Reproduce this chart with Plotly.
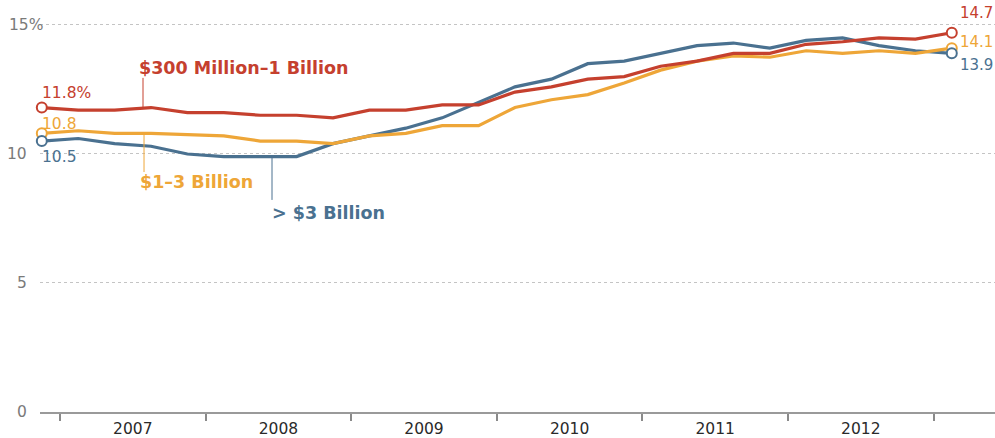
import plotly.graph_objects as go

# Quarterly periods, 2006 Q4 through 2013 Q1 (plotted at mid-quarter)
quarters = [
    "2006Q4",
    "2007Q1", "2007Q2", "2007Q3", "2007Q4",
    "2008Q1", "2008Q2", "2008Q3", "2008Q4",
    "2009Q1", "2009Q2", "2009Q3", "2009Q4",
    "2010Q1", "2010Q2", "2010Q3", "2010Q4",
    "2011Q1", "2011Q2", "2011Q3", "2011Q4",
    "2012Q1", "2012Q2", "2012Q3", "2012Q4",
    "2013Q1",
]

mid_300m_1b = [11.8, 11.7, 11.7, 11.8, 11.6, 11.6, 11.5, 11.5, 11.4, 11.7, 11.7, 11.9, 11.9,
               12.4, 12.6, 12.9, 13.0, 13.4, 13.6, 13.9, 13.9, 14.25, 14.35, 14.5, 14.45, 14.7]
mid_1b_3b = [10.8, 10.9, 10.8, 10.8, 10.75, 10.7, 10.5, 10.5, 10.4, 10.7, 10.8, 11.1, 11.1,
             11.8, 12.1, 12.3, 12.75, 13.25, 13.6, 13.8, 13.75, 14.0, 13.9, 14.0, 13.9, 14.1]
over_3b = [10.5, 10.6, 10.4, 10.3, 10.0, 9.9, 9.9, 9.9, 10.4, 10.7, 11.0, 11.4, 12.0,
           12.6, 12.9, 13.5, 13.6, 13.9, 14.2, 14.3, 14.1, 14.4, 14.5, 14.2, 14.0, 13.9]

years = [2007, 2008, 2009, 2010, 2011, 2012]
y_ticks = [0, 5, 10, 15]
y_tick_text = ["0", "5", "10", "15%"]

RED = "#c5402e"
GOLD = "#eea638"
BLUE = "#4a7190"
FONT = "DejaVu Sans"


def quarter_pos(q):
    yr, qn = int(q[:4]), int(q[-1])
    return yr + (qn - 0.5) / 4.0


xq = [quarter_pos(q) for q in quarters]

series = [
    ("$300 Million\u20131 Billion", mid_300m_1b, RED),
    ("$1\u20133 Billion", mid_1b_3b, GOLD),
    ("> $3 Billion", over_3b, BLUE),
]

fig = go.Figure()
# draw lines back to front: blue, gold, red on top
for name, vals, col in [series[2], series[1], series[0]]:
    fig.add_trace(go.Scatter(
        x=xq, y=vals, mode="lines", name=name,
        line=dict(color=col, width=3.2), hoverinfo="skip", showlegend=False,
    ))
for name, vals, col in series:
    fig.add_trace(go.Scatter(
        x=[xq[0], xq[-1]], y=[vals[0], vals[-1]], mode="markers",
        marker=dict(symbol="circle", size=10, color="white",
                    line=dict(color=col, width=2)),
        hoverinfo="skip", showlegend=False, cliponaxis=False,
    ))

annotations = []
shapes = []

# start/end value labels
label_font = dict(family=FONT, size=15.5)
end_font = dict(family=FONT, size=15)
annotations.append(dict(x=xq[0] - 0.01, y=mid_300m_1b[0] + 0.56, text=f"{mid_300m_1b[0]:.1f}%",
                        xanchor="left", yanchor="middle", showarrow=False,
                        font=dict(label_font, color=RED)))
annotations.append(dict(x=xq[0] - 0.01, y=mid_1b_3b[0] + 0.36, text=f"{mid_1b_3b[0]:.1f}",
                        xanchor="left", yanchor="middle", showarrow=False,
                        font=dict(label_font, color=GOLD)))
annotations.append(dict(x=xq[0] - 0.01, y=over_3b[0] - 0.62, text=f"{over_3b[0]:.1f}",
                        xanchor="left", yanchor="middle", showarrow=False,
                        font=dict(label_font, color=BLUE)))
end_x = xq[-1] + 0.045
annotations.append(dict(x=end_x, y=mid_300m_1b[-1] + 0.77, text=f"{mid_300m_1b[-1]:.1f}",
                        xanchor="left", yanchor="middle", showarrow=False,
                        font=dict(end_font, color=RED)))
annotations.append(dict(x=end_x, y=mid_1b_3b[-1] + 0.24, text=f"{mid_1b_3b[-1]:.1f}",
                        xanchor="left", yanchor="middle", showarrow=False,
                        font=dict(end_font, color=GOLD)))
annotations.append(dict(x=end_x, y=over_3b[-1] - 0.45, text=f"{over_3b[-1]:.1f}",
                        xanchor="left", yanchor="middle", showarrow=False,
                        font=dict(end_font, color=BLUE)))

# series name labels with short leader lines
name_spots = [
    # text, colour, label x, label y, leader x, leader bottom/top
    (series[0][0], RED, 2007.529, 13.33, 2007.570, 11.8, 12.95),
    (series[1][0], GOLD, 2007.536, 8.91, 2007.577, 10.8, 9.30),
    (series[2][0], BLUE, 2008.442, 7.71, 2008.456, 9.9, 8.22),
]
for text, col, lx, ly, kx, k0, k1 in name_spots:
    annotations.append(dict(x=lx, y=ly, text=f"<b>{text}</b>", xanchor="left", yanchor="middle",
                            showarrow=False, font=dict(family=FONT, size=17.5, color=col)))
    shapes.append(dict(type="line", xref="x", yref="y", x0=kx, x1=kx, y0=k0, y1=k1,
                       line=dict(color=col, width=1)))

# y tick labels
for v, t in zip(y_ticks, y_tick_text):
    if t.endswith("%"):
        annotations.append(dict(xref="paper", yref="y", x=-0.0345, y=v, text=t,
                                xanchor="left", yanchor="middle", showarrow=False,
                                font=dict(family=FONT, size=15.5, color="#7a7a7a")))
    else:
        annotations.append(dict(xref="paper", yref="y", x=-0.0115, y=v, text=t,
                                xanchor="right", yanchor="middle", showarrow=False,
                                font=dict(family=FONT, size=15.5, color="#7a7a7a")))

fig.update_layout(
    width=995, height=438,
    margin=dict(l=40, r=0, t=10, b=26),
    paper_bgcolor="white", plot_bgcolor="white",
    annotations=annotations, shapes=shapes,
    xaxis=dict(
        range=[2006.8626, 2013.4217],
        tickvals=[y + 0.5 for y in years], ticktext=[str(y) for y in years],
        ticks="", showgrid=False, zeroline=False,
        showline=True, linecolor="#9a9a9a", linewidth=1.5,
        tickfont=dict(family=FONT, size=15.5, color="#2a2a2a"),
        ticklabelstandoff=2,
        minor=dict(tickmode="linear", tick0=2007, dtick=1, ticks="outside",
                   ticklen=7, tickwidth=1.5, tickcolor="#8a8a8a", showgrid=False),
    ),
    yaxis=dict(
        range=[0, 15.58], tickvals=[5, 10, 15], showticklabels=False,
        showgrid=True, gridcolor="#c4c4c4", gridwidth=1, griddash="dot",
        zeroline=False, showline=False, ticks="",
    ),
)

fig.write_html("out.html")
